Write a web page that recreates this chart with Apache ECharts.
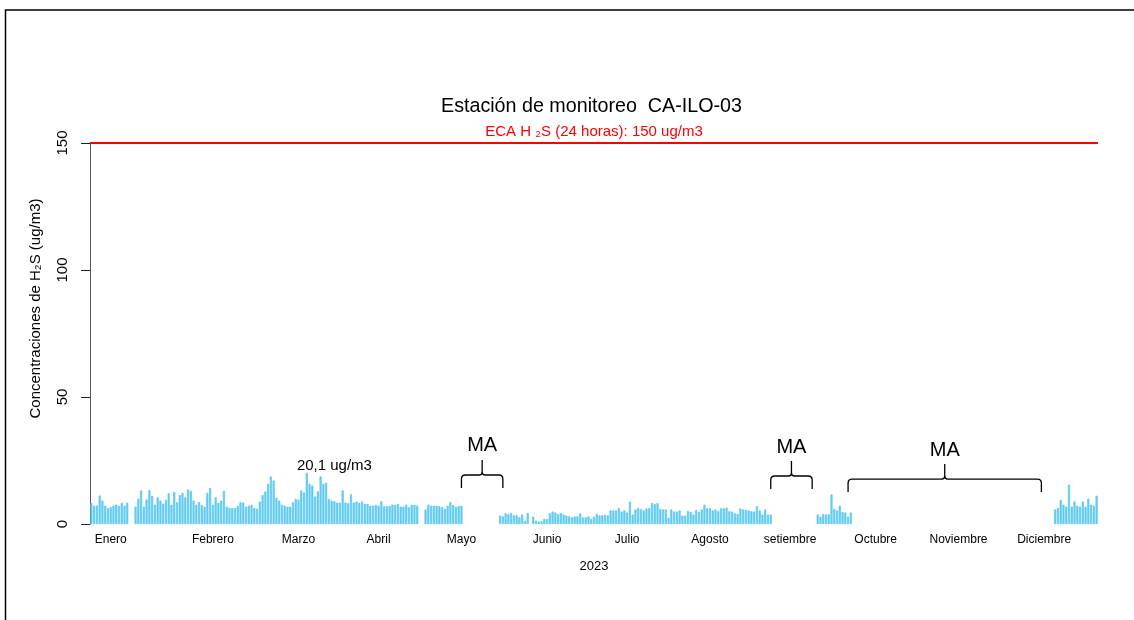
<!DOCTYPE html>
<html>
<head>
<meta charset="utf-8">
<script src="https://cdn.jsdelivr.net/npm/echarts@6/dist/echarts.min.js"></script>
<style>html,body{margin:0;padding:0;background:#fff;}#c{width:1134px;height:620px;}</style>
</head>
<body>
<div id="c"></div>
<script>
// ---- data (daily H2S, ug/m3; null = no data) ----
const ene = [8.2,7.2,7.2,11.2,9.2,7.2,6.2,6.6,7.2,7.6,7.1,8.3,7.2,8.4,null,null,6.8,9.9,13.2,6.8,9.7,13.3,11,7.6,10.5,9.2,8,9.5,12.1,7.6,12.6];
const feb = [8.6,11.4,12.2,10.5,13.6,13,9.2,7.6,8.6,7.5,6.8,12.2,14.2,7.6,10.5,8.3,9.2,13,6.8,6.3,6.3,6.3,7.1,8.6,8.4,6.8,7.2,7.5];
const mar = [6.3,6,8.8,11.4,12.8,15.8,18.7,17.1,10.3,9.2,7.6,7.2,6.8,6.8,8.6,9.9,9.5,13.2,12.4,20.1,15.8,15.1,10.8,12.8,18.7,15.8,16.2,9.9,9.2,8.9,8.4];
const abr = [8.4,13.2,8.4,8.2,11.7,8.4,8.8,8.3,8.9,7.9,7.9,7.2,7.2,7.5,7.2,8.9,7,7,7.1,7.6,7.5,7.9,6.8,6.8,7.5,6.6,7.5,7.5,7.2,null];
const may = [null,5.7,7.6,7.2,7.2,7.2,7,6.6,6,7.2,8.6,7.5,6.8,7,7.2,null,null,null,null,null,null,null,null,null,null,null,null,null,3.3,3.0,4.2];
const jun = [3.9,4.3,3.4,3.4,2.6,3.7,1.3,4.3,null,2.9,1.3,0.9,1.1,2,2,4.2,4.9,4.5,3.9,4.3,3.7,3.3,3.0,2.6,2.9,3.0,4.2,2.6,2.6,3.0];
const jul = [2.0,2.9,3.9,3.4,3.4,3.6,3.4,5.3,5.3,5.3,6.3,4.9,5.3,4.5,8.8,3.7,5.7,6.3,5.9,5.3,6.1,6.2,8.3,7.9,8.2,5.9,5.7,5.7,2.4,5.7,4.9];
const ago = [4.9,5.3,3.3,3.3,5.1,4.7,3.7,5.5,4.7,5.7,7.6,6.2,6.2,5.3,5.7,5.0,6.2,6.1,6.4,5.0,4.9,4.2,3.9,6.1,5.7,5.5,5.3,5.0,4.9,7.0,5.3];
const sep = [3.7,5.7,3.7,3.7,null,null,null,null,null,null,null,null,null,null,null,null,null,null,null,null,3.7,2.9,3.9,3.8,3.8,11.6,5.9,5.3,7.2,4.7];
const oct = [4.5,2.9,4.5,null,null,null,null,null,null,null,null,null,null,null,null,null,null,null,null,null,null,null,null,null,null,null,null,null,null,null,null];
const nov = [null,null,null,null,null,null,null,null,null,null,null,null,null,null,null,null,null,null,null,null,null,null,null,null,null,null,null,null,null,null];
const dic = [null,null,null,null,null,null,null,null,null,null,null,null,null,null,null,5.7,6.3,9.5,7.6,6.8,15.5,6.8,8.9,7.2,6.8,8.8,6.8,9.9,7.6,7.2,11.1];

// month tick labels and the day (category index) each sits on
const monthNames = ['Enero','Febrero','Marzo','Abril','Mayo','Junio','Julio','Agosto','setiembre','Octubre','Noviembre','Diciembre'];
const monthLabelDay = [7,44,75,104,134,165,194,224,253,284,314,345];
const yTicks = [0,50,100,150];

// MA (missing data) brackets: start day, end day, bracket level (ug/m3)
const maStart = [134,246,274];
const maEnd   = [149,261,344];
const maLevel = [19.3,18.9,17.7];
const maText = 'MA';

const ecaLimit = 150;
const ecaLabel = 'ECA H \u2082S (24 horas): 150 ug/m3';
const peakNote = '20,1 ug/m3';
const peakNoteAt = [88, 22.9];

const titleText = 'Estación de monitoreo  CA-ILO-03';
const yName = 'Concentraciones de H\u2082S (ug/m3)';
const xName = '2023';

// ---- build ----
const h2s = [].concat(ene,feb,mar,abr,may,jun,jul,ago,sep,oct,nov,dic);
const days = [];
{
  const d0 = Date.UTC(2023,0,1);
  for (let i = 0; i < h2s.length; i++) {
    const d = new Date(d0 + i*86400000);
    days.push(d.toISOString().slice(0,10));
  }
}
const FONT = 'Liberation Sans, Arial, Helvetica, sans-serif';
const braceData = maStart.map((s,i)=>[s, maEnd[i], maLevel[i]]);

const chart = echarts.init(document.getElementById('c'), null, {renderer:'canvas'});
chart.setOption({
  animation: false,
  backgroundColor: '#ffffff',
  textStyle: {fontFamily: FONT},
  title: {
    text: titleText, left: 436, top: 92,
    textStyle: {fontSize: 19.7, fontWeight: 'normal', color: '#000', fontFamily: FONT}
  },
  graphic: [{
    type: 'rect', silent: true,
    shape: {x: 5.5, y: 10, width: 1140, height: 700},
    style: {fill: 'none', stroke: '#000', lineWidth: 1.5}
  }],
  grid: {left: 90, right: 36, top: 143, bottom: 96, containLabel: false},
  xAxis: {
    type: 'category', data: days, boundaryGap: true,
    axisLine: {show: false}, axisTick: {show: false}, splitLine: {show: false},
    axisLabel: {
      interval: (idx) => monthLabelDay.indexOf(idx) >= 0,
      formatter: (v, idx) => { const k = monthLabelDay.indexOf(idx); return k >= 0 ? monthNames[k] : ''; },
      fontSize: 12, color: '#000', margin: 10, fontFamily: FONT
    },
    name: xName, nameLocation: 'middle', nameGap: 36,
    nameTextStyle: {fontSize: 13, color: '#000', fontFamily: FONT}
  },
  yAxis: {
    type: 'value', min: yTicks[0], max: yTicks[yTicks.length-1], interval: yTicks[1]-yTicks[0],
    axisLine: {show: true, lineStyle: {color: '#555', width: 1}},
    axisTick: {show: true, length: 9, lineStyle: {color: '#222', width: 1}},
    splitLine: {show: false},
    axisLabel: {rotate: 90, fontSize: 15, color: '#000', margin: 20, fontFamily: FONT},
    name: yName, nameLocation: 'middle', nameGap: 47, nameRotate: 90,
    nameTextStyle: {fontSize: 15, color: '#000', fontFamily: FONT, padding: [0, 0, 0, 50]}
  },
  series: [
    {
      type: 'bar', name: 'H2S', data: h2s, barWidth: '74%',
      itemStyle: {color: '#6ccff5', borderColor: '#45c2ef', borderWidth: 0.6},
      emphasis: {disabled: true},
      markLine: {
        silent: true, symbol: ['none','none'],
        data: [{yAxis: ecaLimit}],
        lineStyle: {color: '#ff0000', width: 2, type: 'solid'},
        label: {show: true, position: 'insideMiddleTop', formatter: ecaLabel, color: '#ff0000', fontSize: 15, distance: 4, fontFamily: FONT},
        emphasis: {disabled: true}
      }
    },
    {
      type: 'custom', name: 'MA', data: braceData, silent: true, clip: false,
      renderItem: function (params, api) {
        const x0 = api.coord([api.value(0), 0])[0];
        const x1 = api.coord([api.value(1), 0])[0];
        const yH = api.coord([0, api.value(2)])[1];
        const xc = (x0 + x1) / 2;
        const yE = yH + 13, yT = yH - 15, r = 4, rc = 3;
        const d = 'M' + x0 + ' ' + yE + ' L' + x0 + ' ' + (yH + r) +
          ' Q' + x0 + ' ' + yH + ' ' + (x0 + r) + ' ' + yH +
          ' L' + (xc - rc) + ' ' + yH +
          ' Q' + xc + ' ' + yH + ' ' + xc + ' ' + (yH - rc) +
          ' L' + xc + ' ' + yT +
          ' M' + xc + ' ' + (yH - rc) +
          ' Q' + xc + ' ' + yH + ' ' + (xc + rc) + ' ' + yH +
          ' L' + (x1 - r) + ' ' + yH +
          ' Q' + x1 + ' ' + yH + ' ' + x1 + ' ' + (yH + r) +
          ' L' + x1 + ' ' + yE;
        return {
          type: 'group',
          children: [
            {type: 'path', shape: {pathData: d}, style: {fill: 'none', stroke: '#000', lineWidth: 1.3}},
            {type: 'text', style: {text: maText, x: xc, y: yT - 4, align: 'center', verticalAlign: 'bottom', fontSize: 20, fontFamily: FONT, fill: '#000'}}
          ]
        };
      }
    },
    {
      type: 'custom', name: 'nota', data: [peakNoteAt], silent: true, clip: false,
      renderItem: function (params, api) {
        const p = api.coord([api.value(0), api.value(1)]);
        return {type: 'text', style: {text: peakNote, x: p[0], y: p[1], align: 'center', verticalAlign: 'middle', fontSize: 15, fontFamily: FONT, fill: '#000'}};
      }
    }
  ]
});
</script>
</body>
</html>
